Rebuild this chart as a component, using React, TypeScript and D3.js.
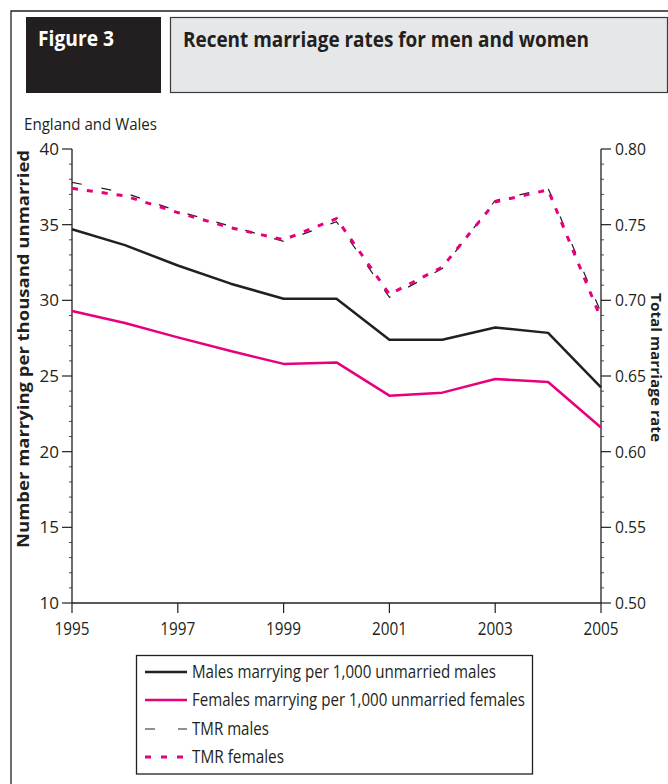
import React from "react";
import * as d3 from "d3";

const years = [1995, 1996, 1997, 1998, 1999, 2000, 2001, 2002, 2003, 2004, 2005];
const malesRate = [34.7, 33.65, 32.3, 31.1, 30.1, 30.1, 27.4, 27.4, 28.2, 27.85, 24.25];
const femalesRate = [29.3, 28.5, 27.55, 26.65, 25.8, 25.9, 23.7, 23.9, 24.8, 24.6, 21.6];
const tmrMales = [0.778, 0.771, 0.759, 0.749, 0.739, 0.752, 0.702, 0.721, 0.766, 0.774, 0.692];
const tmrFemales = [0.774, 0.769, 0.758, 0.748, 0.740, 0.754, 0.704, 0.722, 0.765, 0.773, 0.688];

const xTicks = [1995, 1997, 1999, 2001, 2003, 2005];
const leftTicks = [10, 15, 20, 25, 30, 35, 40];
const rightTicks = [0.5, 0.55, 0.6, 0.65, 0.7, 0.75, 0.8];

const legendLabels = [
  "Males marrying per 1,000 unmarried males",
  "Females marrying per 1,000 unmarried females",
  "TMR males",
  "TMR females",
];

const INK = "#231f20";
const PINK = "#e6007e";
const FONT = "'Open Sans', 'DejaVu Sans', sans-serif";

export default function App() {
  const x = d3.scaleLinear().domain([1995, 2005]).range([72, 601]);
  const yL = d3.scaleLinear().domain([10, 40]).range([603, 149]);
  const yR = d3.scaleLinear().domain([0.5, 0.8]).range([603, 149]);

  const lineL = d3
    .line<number>()
    .x((_, i) => x(years[i]))
    .y((d) => yL(d));
  const lineR = d3
    .line<number>()
    .x((_, i) => x(years[i]))
    .y((d) => yR(d));

  const leftMinor = d3.range(10, 41).filter((v) => v % 5 !== 0);
  const rightMinor = d3.range(50, 81).filter((v) => v % 5 !== 0).map((v) => v / 100);

  const legendRows = [672, 700, 729, 757];
  const legendWidths = [304, 333, 77, 92];
  const legendStyles = [
    { stroke: INK, width: 2.5, dash: undefined as string | undefined },
    { stroke: PINK, width: 2.5, dash: undefined as string | undefined },
    { stroke: INK, width: 1.2, dash: "10,23" },
    { stroke: PINK, width: 3, dash: "6,10" },
  ];

  return (
    <svg
      width={668}
      height={784}
      style={{ position: "absolute", left: 0, top: 0, background: "#fff" }}
      fontFamily={FONT}
    >
      {/* outer frame */}
      <path d="M11,784 L11,11 L668,11" fill="none" stroke={INK} strokeWidth={1.3} />
      {/* header */}
      <rect x={26} y={17} width={135} height={76} fill={INK} />
      <rect x={170.5} y={17.5} width={497} height={75} fill="#e6e7e8" stroke="#3a3a3a" strokeWidth={1.2} />
      <text x={38} y={46} fill="#fff" fontWeight="bold" fontSize={21} textLength={76} lengthAdjust="spacingAndGlyphs">
        Figure 3
      </text>
      <text x={183} y={47} fill={INK} fontWeight="bold" fontSize={21} textLength={406} lengthAdjust="spacingAndGlyphs">
        Recent marriage rates for men and women
      </text>
      <text x={24} y={130} fill={INK} fontSize={16.5} textLength={133} lengthAdjust="spacingAndGlyphs">
        England and Wales
      </text>

      {/* axes */}
      <line x1={72} y1={149} x2={72} y2={603} stroke={INK} strokeWidth={1.3} />
      <line x1={601} y1={149} x2={601} y2={603} stroke={INK} strokeWidth={1.3} />
      <line x1={72} y1={603} x2={601} y2={603} stroke={INK} strokeWidth={1.3} />

      {leftTicks.map((t) => (
        <g key={"l" + t}>
          <line x1={62} x2={72} y1={yL(t)} y2={yL(t)} stroke={INK} strokeWidth={1.2} />
          <text x={59} y={yL(t)} dy="0.36em" textAnchor="end" fontSize={17} fill={INK}
            textLength={19.5} lengthAdjust="spacingAndGlyphs">
            {t}
          </text>
        </g>
      ))}
      {leftMinor.map((t) => (
        <line key={"lm" + t} x1={69} x2={72} y1={yL(t)} y2={yL(t)} stroke={INK} strokeWidth={0.8} />
      ))}
      {rightTicks.map((t) => (
        <g key={"r" + t}>
          <line x1={601} x2={611} y1={yR(t)} y2={yR(t)} stroke={INK} strokeWidth={1.2} />
          <text x={615} y={yR(t)} dy="0.36em" textAnchor="start" fontSize={17} fill={INK}
            textLength={31} lengthAdjust="spacingAndGlyphs">
            {t.toFixed(2)}
          </text>
        </g>
      ))}
      {rightMinor.map((t) => (
        <line key={"rm" + t} x1={601} x2={604} y1={yR(t)} y2={yR(t)} stroke={INK} strokeWidth={0.8} />
      ))}
      {xTicks.map((t) => (
        <g key={"x" + t}>
          <line x1={x(t)} x2={x(t)} y1={603} y2={613} stroke={INK} strokeWidth={1.2} />
          <text x={x(t)} y={635} textAnchor="middle" fontSize={17.5} fill={INK}
            textLength={35} lengthAdjust="spacingAndGlyphs">
            {t}
          </text>
        </g>
      ))}

      {/* axis titles */}
      <text
        transform="translate(29,349) rotate(-90)"
        textAnchor="middle"
        fontWeight="bold"
        fontSize={16.5}
        fill={INK}
        textLength={398}
        lengthAdjust="spacingAndGlyphs"
      >
        Number marrying per thousand unmarried
      </text>
      <text
        transform="translate(651,367.5) rotate(90)"
        textAnchor="middle"
        fontWeight="bold"
        fontSize={15}
        fill={INK}
        textLength={149}
        lengthAdjust="spacingAndGlyphs"
      >
        Total marriage rate
      </text>

      {/* series */}
      <path d={lineL(malesRate) || ""} fill="none" stroke={INK} strokeWidth={2.5} strokeLinejoin="round" />
      <path d={lineL(femalesRate) || ""} fill="none" stroke={PINK} strokeWidth={2.5} strokeLinejoin="round" />
      <path d={lineR(tmrMales) || ""} fill="none" stroke={INK} strokeWidth={1.2} strokeDasharray="10,20" />
      <path d={lineR(tmrFemales) || ""} fill="none" stroke={PINK} strokeWidth={3} strokeDasharray="6,9" />

      {/* legend */}
      <rect x={136.5} y={655.5} width={396} height={118.5} fill="#fff" stroke={INK} strokeWidth={1.3} />
      {legendLabels.map((lab, i) => (
        <g key={lab}>
          <line
            x1={145}
            x2={187}
            y1={legendRows[i]}
            y2={legendRows[i]}
            stroke={legendStyles[i].stroke}
            strokeWidth={legendStyles[i].width}
            strokeDasharray={legendStyles[i].dash}
          />
          <text
            x={192}
            y={legendRows[i]}
            dy="0.36em"
            fontSize={17.5}
            fill={INK}
            textLength={legendWidths[i]}
            lengthAdjust="spacingAndGlyphs"
          >
            {lab}
          </text>
        </g>
      ))}
    </svg>
  );
}
